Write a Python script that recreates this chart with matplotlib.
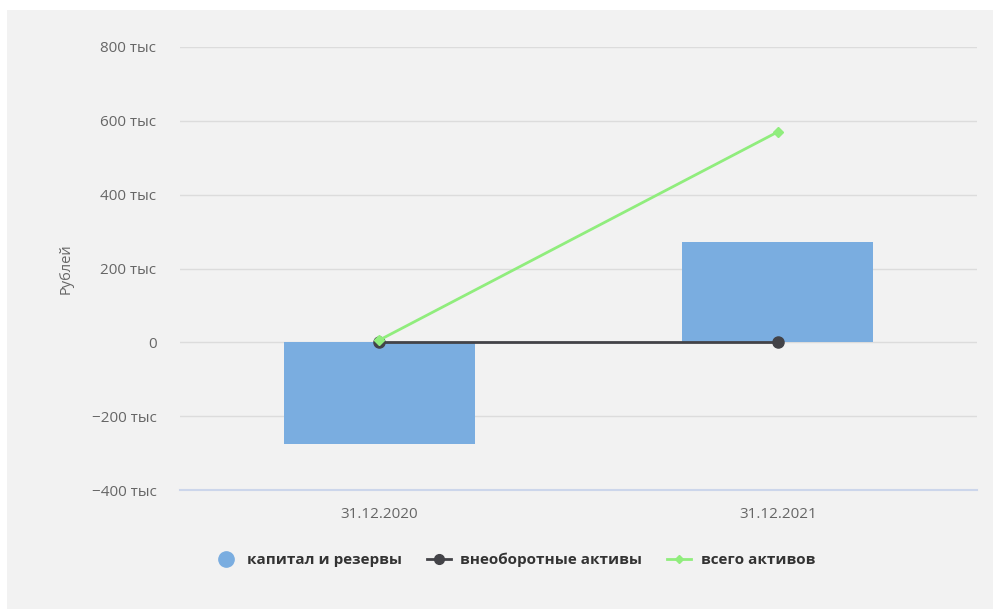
import matplotlib
matplotlib.use("Agg")
import matplotlib.pyplot as plt
from matplotlib.lines import Line2D
from matplotlib.patches import Rectangle
from matplotlib.ticker import FuncFormatter

# данные
dates = ["31.12.2020", "31.12.2021"]
kapital = [-276000, 273000]
vneobor = [0, 0]
vsego = [6000, 570000]

yticks = [-400000, -200000, 0, 200000, 400000, 600000, 800000]

plt.rcParams['font.family'] = ['Open Sans', 'DejaVu Sans']

fig = plt.figure(figsize=(9.93, 6.09), dpi=100)
fig.patch.set_facecolor("white")
# серый фон
fig.patches.append(Rectangle((7/993, 0), 1 - 7/993, 1 - 10/609,
                             transform=fig.transFigure, facecolor="#f2f2f2",
                             edgecolor="none", zorder=-10))

ax = fig.add_axes([180/993, 1 - 490/609, 797/993, 443/609])
ax.set_facecolor("none")

x = list(range(len(dates)))
ax.bar(x, kapital, width=0.48, color="#7aade0", zorder=2)
ax.plot(x, vneobor, color="#434348", lw=2, marker="o", ms=8, zorder=3)
ax.plot(x, vsego, color="#90ed7d", lw=2, marker="D", ms=5, zorder=4)

ax.set_xlim(-0.5, 1.5)
ax.set_ylim(-400000, 800000)
ax.set_yticks(yticks)

def fmt(v, pos):
    if v == 0:
        return "0"
    s = "%d тыс" % (v / 1000)
    return s.replace("-", "\u2212")

ax.yaxis.set_major_formatter(FuncFormatter(fmt))
ax.set_xticks(x)
ax.set_xticklabels(dates)

ax.grid(axis="y", color="#dcdcdc", lw=1, zorder=0)
for s in ["top", "right", "left"]:
    ax.spines[s].set_visible(False)
ax.spines["bottom"].set_color("#ccd6eb")
ax.spines["bottom"].set_linewidth(1.5)
ax.tick_params(axis="y", length=0, pad=22, labelsize=11, labelcolor="#666666")
ax.tick_params(axis="x", length=0, pad=12, labelsize=11, labelcolor="#666666")
for t in ax.get_yticklabels():
    t.set_x(-0.0)
ax.tick_params(axis="y", pad=17)

ax.set_ylabel("Рублей", fontsize=10.5, color="#666666")
ax.yaxis.set_label_coords(-106/797, 0.5)

handles = [
    Line2D([], [], ls="none", marker="o", ms=11, color="#7aade0"),
    Line2D([], [], color="#434348", lw=2, marker="o", ms=7),
    Line2D([], [], color="#90ed7d", lw=2, marker="D", ms=4),
]
labels = ["капитал и резервы", "внеоборотные активы", "всего активов"]
leg = fig.legend(handles, labels, loc="center", bbox_to_anchor=(0.518, 1 - 560/609),
                 ncol=3, frameon=False, handlelength=1.6, columnspacing=1.6,
                 handletextpad=0.6, prop={"size": 11, "weight": "bold"})
for t in leg.get_texts():
    t.set_color("#333333")

fig.savefig("out.png", dpi=100)
